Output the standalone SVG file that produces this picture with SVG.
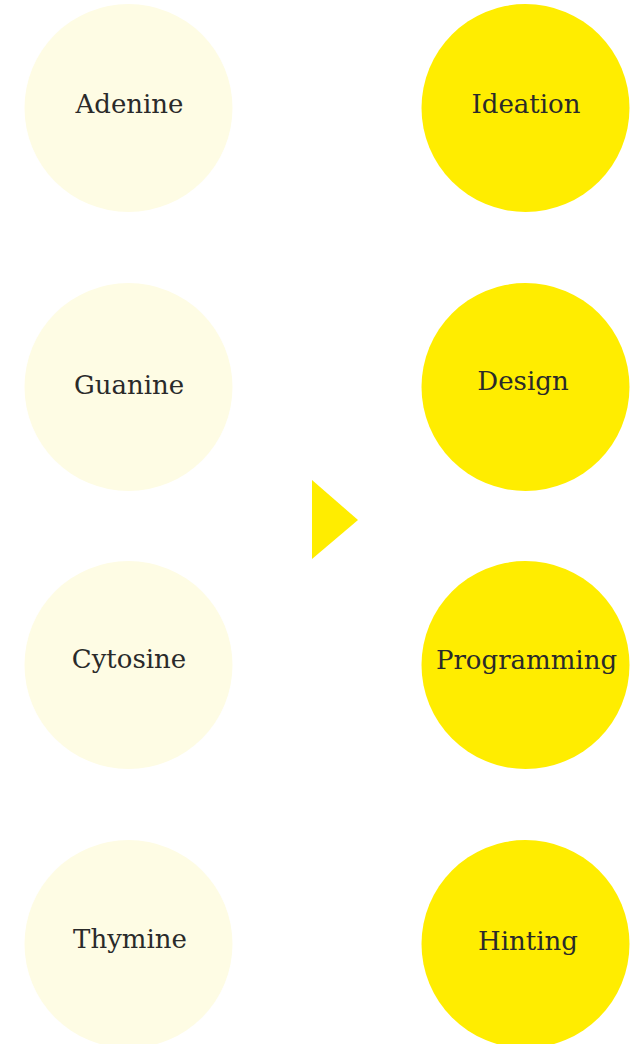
<svg xmlns="http://www.w3.org/2000/svg" width="633" height="1044" viewBox="0 0 633 1044">
<style>
.base circle{fill:#FEFCE4}
.step circle{fill:#FFED00}
text{font-family:"DejaVu Serif","Liberation Serif",serif;font-size:26px;fill:#2a2a2a;text-anchor:middle}
</style>
<rect width="633" height="1044" fill="#ffffff"/>
<g id="adenine" class="base"><circle cx="128.5" cy="108" r="104"/><text x="129.5" y="113">Adenine</text></g>
<g id="guanine" class="base"><circle cx="128.5" cy="387" r="104"/><text x="129" y="394">Guanine</text></g>
<g id="cytosine" class="base"><circle cx="128.5" cy="665" r="104"/><text x="129" y="668">Cytosine</text></g>
<g id="thymine" class="base"><circle cx="128.5" cy="944" r="104"/><text x="130" y="948">Thymine</text></g>
<g id="ideation" class="step"><circle cx="525.5" cy="108" r="104"/><text x="526" y="113">Ideation</text></g>
<g id="design" class="step"><circle cx="525.5" cy="387" r="104"/><text x="523" y="390">Design</text></g>
<g id="programming" class="step"><circle cx="525.5" cy="665" r="104"/><text x="526.5" y="669">Programming</text></g>
<g id="hinting" class="step"><circle cx="525.5" cy="944" r="104"/><text x="528" y="950">Hinting</text></g>
<g id="connectors"><polygon points="312,480 358,520 312,559" fill="#FFED00"/></g>
</svg>
